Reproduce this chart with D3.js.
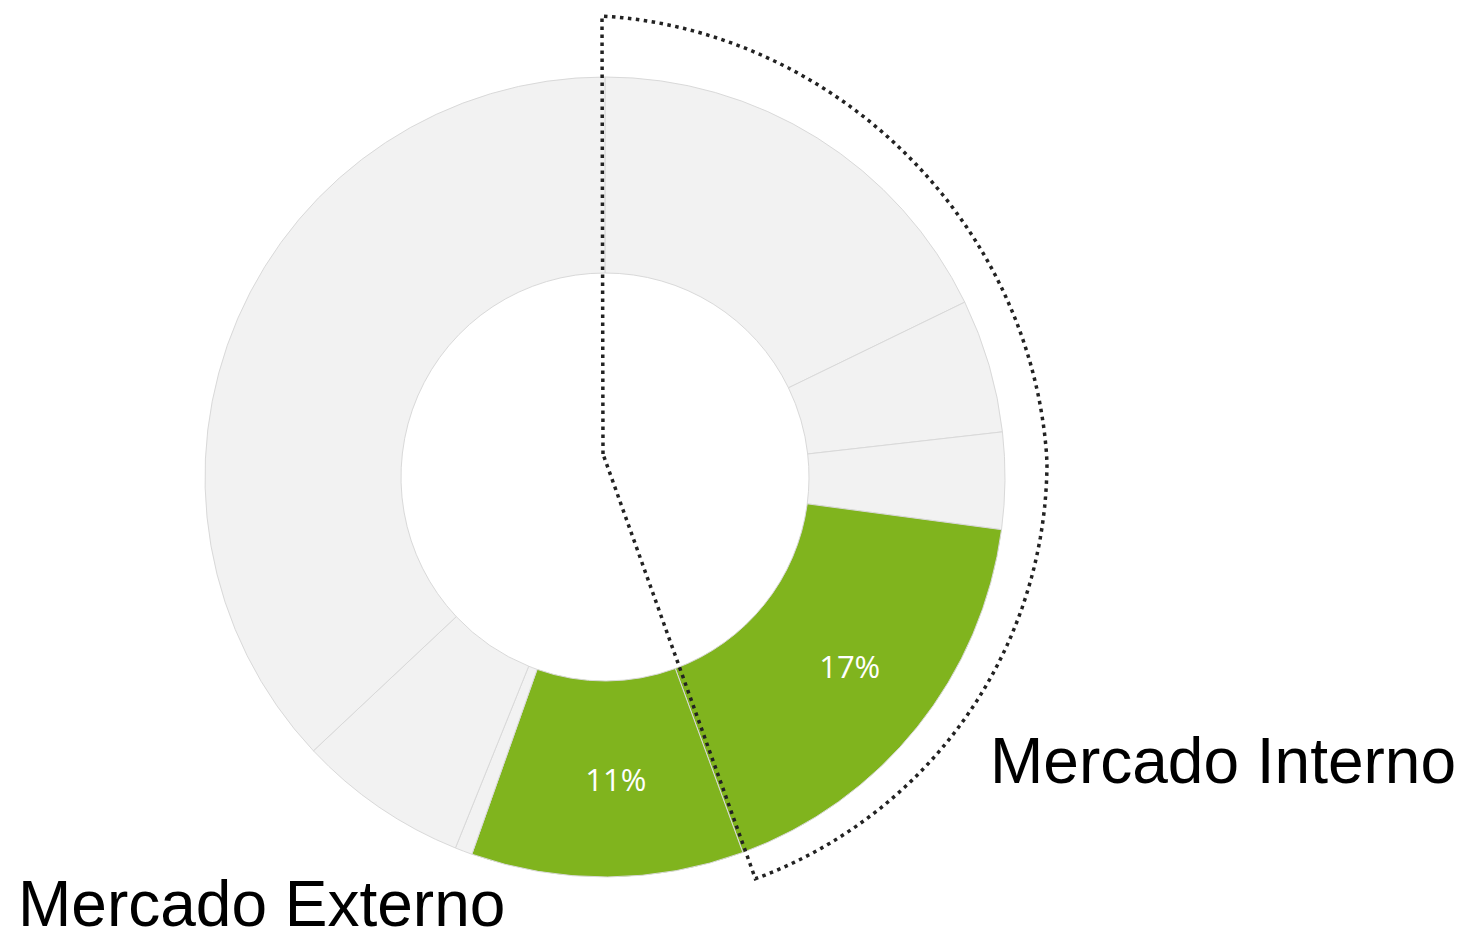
<!DOCTYPE html>
<html>
<head>
<meta charset="utf-8">
<script src="https://cdn.jsdelivr.net/npm/d3@7"></script>
<style>
  html, body { margin: 0; padding: 0; background: #ffffff; }
  svg { display: block; }
</style>
</head>
<body>
<svg id="chart" width="1462" height="934"></svg>
<script>
// ---- data ----
const categories = ["Interno A", "Interno B", "Interno C", "Interno D", "Externo A", "Externo B", "Externo C", "Externo D"];
const groups     = ["Interno", "Interno", "Interno", "Interno", "Externo", "Externo", "Externo", "Externo"];
const values     = [17.8, 5.4, 3.9, 17.3, 11.0, 0.7, 6.9, 37.0];
const highlighted = [false, false, false, true, true, false, false, false];
const groupLabels = ["Mercado Interno", "Mercado Externo"];

// ---- layout ----
const svg = d3.select("#chart");
const cx = 605, cy = 477;
const outerR = 400, innerR = 204;

const data = categories.map((c, i) => ({ cat: c, group: groups[i], value: values[i], hi: highlighted[i] }));

const pie = d3.pie().sort(null).value(d => d.value).startAngle(0).endAngle(2 * Math.PI);
const arcs = pie(data);
const arc = d3.arc().innerRadius(innerR).outerRadius(outerR);

const g = svg.append("g").attr("transform", `translate(${cx},${cy})`);

g.selectAll("path.slice")
  .data(arcs)
  .join("path")
  .attr("class", "slice")
  .attr("d", arc)
  .attr("fill", d => d.data.hi ? "#80b41e" : "#f2f2f2")
  .attr("stroke", "#d9d9d9")
  .attr("stroke-width", 1);

const fmt = v => d3.format(".0f")(v) + "%";
g.selectAll("text.pct")
  .data(arcs.filter(d => d.data.hi))
  .join("text")
  .attr("class", "pct")
  .attr("transform", d => { const c = arc.centroid(d); return `translate(${c[0] + 9},${c[1] + 4})`; })
  .attr("text-anchor", "middle")
  .attr("dominant-baseline", "middle")
  .attr("fill", "#ffffff")
  .style("font-family", "'Open Sans', 'Noto Sans', sans-serif")
  .style("font-size", "31px")
  .text(d => fmt(d.data.value));

// ---- dotted outline around "Mercado Interno" group ----
const internoArcs = arcs.filter(d => d.data.group === "Interno");
const a0 = d3.min(internoArcs, d => d.startAngle);
const a1 = d3.max(internoArcs, d => d.endAngle);
const oc = [602, 461], oR = 445, apexLift = 7;
const rAt = a => oR - 13 * Math.max(0, Math.sin(2 * a));
const pts = d3.range(0, 121).map(i => {
  const a = a0 + (a1 - a0) * i / 120;
  const r = rAt(a);
  return [oc[0] + r * Math.sin(a), oc[1] - r * Math.cos(a)];
});
const apex = [oc[0] + 1, oc[1] - apexLift];
svg.append("path")
  .attr("d", d3.line()([apex, ...pts]) + "Z")
  .attr("fill", "none")
  .attr("stroke", "#222222")
  .attr("stroke-width", 3.5)
  .attr("stroke-dasharray", "3.5 4.5");

// ---- group labels ----
const labelFont = "'Liberation Sans', Arial, sans-serif";
svg.append("text")
  .attr("x", 990).attr("y", 783)
  .style("font-family", labelFont).style("font-size", "64px").attr("fill", "#000")
  .text(groupLabels[0]);
svg.append("text")
  .attr("x", 18).attr("y", 926)
  .style("font-family", labelFont).style("font-size", "64px").attr("fill", "#000")
  .text(groupLabels[1]);
</script>
</body>
</html>
